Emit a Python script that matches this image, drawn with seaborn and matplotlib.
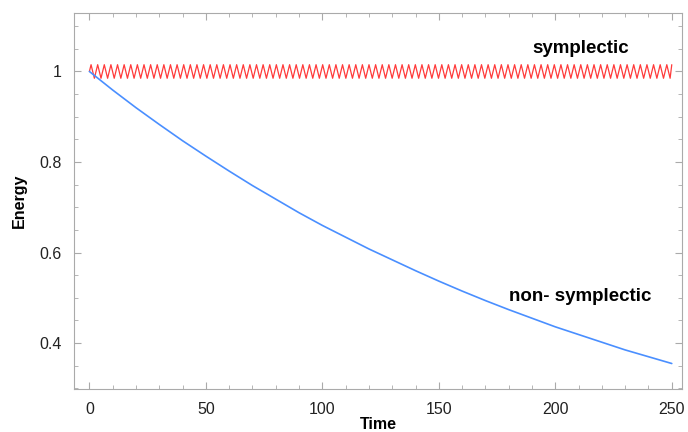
import numpy as np
import pandas as pd
import matplotlib
matplotlib.use("Agg")
import matplotlib.pyplot as plt
from matplotlib.ticker import MultipleLocator
import seaborn as sns

# --- DATA ---
# non-symplectic energy, sampled every 10 time units
time_nonsym = [0, 10, 20, 30, 40, 50, 60, 70, 80, 90, 100, 110, 120, 130,
               140, 150, 160, 170, 180, 190, 200, 210, 220, 230, 240, 250]
energy_nonsym = [1.000, 0.959, 0.920, 0.883, 0.847, 0.813, 0.780, 0.748,
                 0.718, 0.688, 0.660, 0.634, 0.608, 0.584, 0.560, 0.537,
                 0.515, 0.494, 0.474, 0.455, 0.436, 0.419, 0.402, 0.385,
                 0.370, 0.355]

# symplectic energy: zig-zag between these extremes
sym_peak = 1.015
sym_trough = 0.985
sym_cycles = 88
sym_t_end = 250

# labels
label_sym = "symplectic"
label_nonsym = "non- symplectic"

# build symplectic zig-zag from the extremes
n_half = 2 * sym_cycles
t_sym = np.concatenate([[0.0], np.linspace(sym_t_end / n_half / 2, sym_t_end - sym_t_end / n_half / 2, n_half), [sym_t_end]])
e_sym = np.concatenate([[1.0], np.tile([sym_peak, sym_trough], sym_cycles), [sym_peak]])
df_sym = pd.DataFrame({"Time": t_sym, "Energy": e_sym})
df_nonsym = pd.DataFrame({"Time": time_nonsym, "Energy": energy_nonsym})

sns.set_style("ticks")
plt.rcParams["font.family"] = ["Liberation Sans", "DejaVu Sans"]

fig = plt.figure(figsize=(6.88, 4.32), dpi=100)
ax = fig.add_axes([0.1076, 0.0988, 0.8837, 0.872])

sns.lineplot(data=df_sym, x="Time", y="Energy", color="#ff3a3a", lw=0.9, ax=ax)
sns.lineplot(data=df_nonsym, x="Time", y="Energy", color="#4a8fff", lw=1.2, ax=ax)

ax.set_xlim(-6.6, 254.4)
ax.set_ylim(0.298, 1.13)
ax.xaxis.set_major_locator(MultipleLocator(50))
ax.xaxis.set_minor_locator(MultipleLocator(10))
ax.yaxis.set_minor_locator(MultipleLocator(0.05))
ax.set_yticks([0.4, 0.6, 0.8, 1.0])
ax.set_yticklabels(["0.4", "0.6", "0.8", "1"])

for s in ax.spines.values():
    s.set_color("#aaaaaa")
    s.set_linewidth(0.8)
ax.tick_params(which="both", direction="in", top=True, right=True, color="#aaaaaa")
ax.tick_params(which="major", length=5, labelsize=11.5, labelcolor="#222222")
ax.tick_params(axis="y", which="major", pad=9)
ax.tick_params(axis="x", which="major", pad=9)
ax.tick_params(which="minor", length=3)

ax.set_xlabel("Time", fontsize=11.5, fontweight="bold", labelpad=0, color="black")
ax.set_ylabel("Energy", fontsize=11.5, fontweight="bold", labelpad=9, color="black")

ax.text(211, 1.05, label_sym, fontsize=13.5, fontweight="bold", ha="center", va="center", color="black")
ax.text(210.5, 0.503, label_nonsym, fontsize=13.5, fontweight="bold", ha="center", va="center", color="black")

fig.savefig("out.png", dpi=100)
